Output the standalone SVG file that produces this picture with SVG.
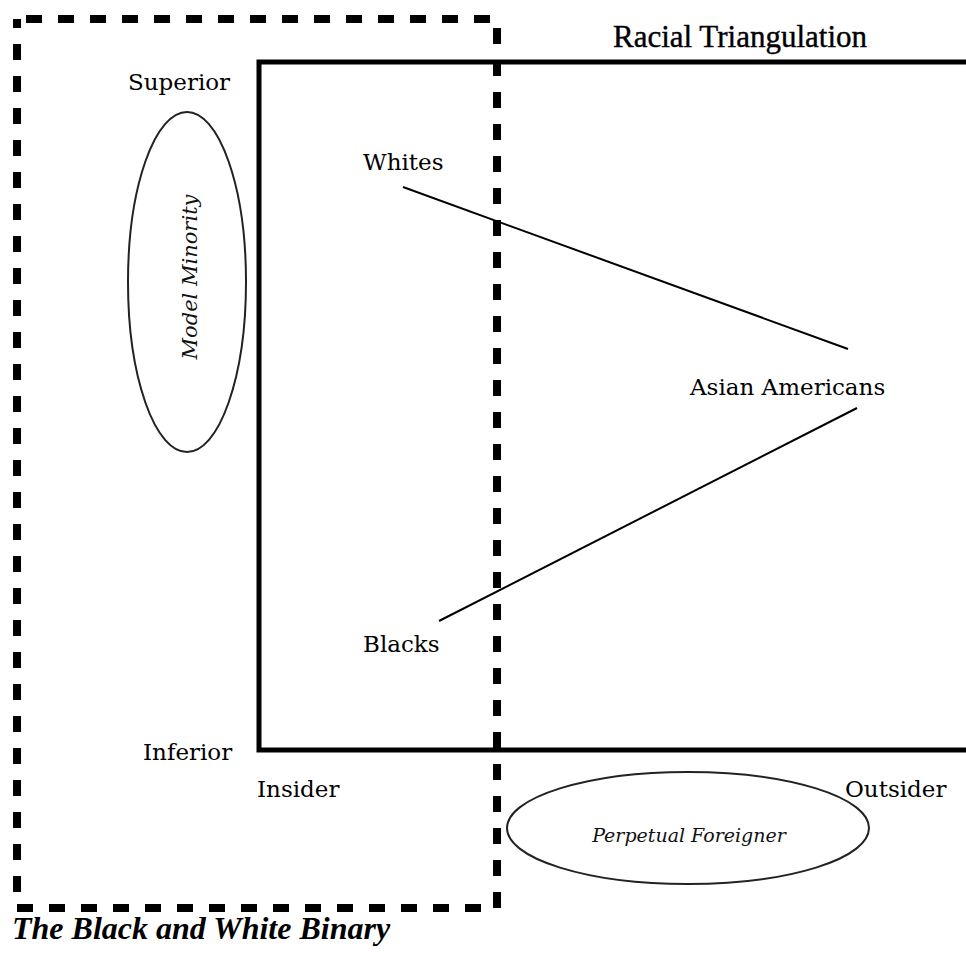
<svg xmlns="http://www.w3.org/2000/svg" width="966" height="959" viewBox="0 0 966 959">
<style>
.lbl{font-family:"DejaVu Serif","Liberation Serif",serif;font-size:23px;fill:#000}
.it{font-family:"DejaVu Serif","Liberation Serif",serif;font-style:italic;fill:#111}
.title{font-family:"Liberation Serif","Times New Roman",serif;font-size:31px;fill:#000;stroke:#000;stroke-width:0.4}
.bin{font-family:"Liberation Serif","Times New Roman",serif;font-size:32px;font-weight:bold;font-style:italic;fill:#000}
.oval{fill:none;stroke:#222;stroke-width:2}
.conn{stroke:#000;stroke-width:2;fill:none}
</style>
<rect width="966" height="959" fill="#fff"/>
<g id="binary-box">
<rect x="17" y="19" width="480" height="889" fill="none" stroke="#000" stroke-width="8" stroke-dasharray="16 16" stroke-dashoffset="23"/>
<text class="bin" x="12" y="939">The Black and White Binary</text>
</g>
<g id="triangulation-frame">
<path d="M966 62 H259 V750 H966" fill="none" stroke="#000" stroke-width="5"/>
<text class="title" x="613" y="47">Racial Triangulation</text>
</g>
<g id="axis-labels">
<text class="lbl" x="128" y="90">Superior</text>
<text class="lbl" x="143" y="760">Inferior</text>
<text class="lbl" x="257" y="797">Insider</text>
<text class="lbl" x="845" y="797">Outsider</text>
</g>
<g id="model-minority">
<ellipse class="oval" cx="187" cy="282" rx="59" ry="170"/>
<text class="it" font-size="21" transform="translate(197 277) rotate(-90)" text-anchor="middle">Model Minority</text>
</g>
<g id="perpetual-foreigner">
<ellipse class="oval" cx="688" cy="828" rx="181" ry="56"/>
<text class="it" font-size="19" x="689" y="842" text-anchor="middle">Perpetual Foreigner</text>
</g>
<g id="whites"><text class="lbl" x="363" y="170">Whites</text></g>
<g id="blacks"><text class="lbl" x="363" y="652">Blacks</text></g>
<g id="asian-americans"><text class="lbl" x="690" y="395">Asian Americans</text></g>
<g id="connectors">
<line class="conn" x1="403" y1="187" x2="848" y2="349"/>
<line class="conn" x1="439" y1="621" x2="857" y2="408"/>
</g>
</svg>
